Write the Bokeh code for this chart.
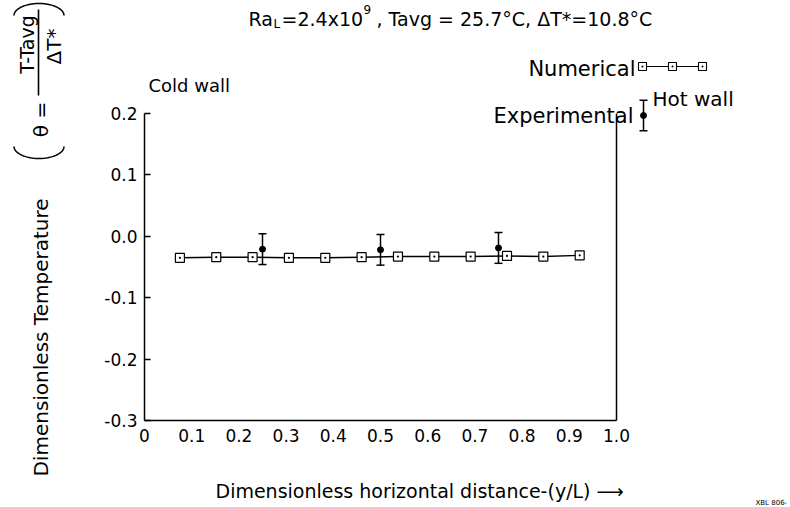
import numpy as np
from bokeh.plotting import figure
from bokeh.models import (ColumnDataSource, Range1d, FixedTicker, PrintfTickFormatter,
                          Label, Whisker, TeeHead, LinearAxis)
from bokeh.embed import file_html
from bokeh.resources import INLINE

# ---------------- data ----------------
num_x = [0.075, 0.152, 0.229, 0.306, 0.383, 0.460, 0.537, 0.614, 0.691, 0.768, 0.845, 0.922]
num_theta = [-0.035, -0.034, -0.034, -0.035, -0.035, -0.034, -0.033, -0.033, -0.033, -0.032, -0.033, -0.031]
exp_x = [0.25, 0.50, 0.75]
exp_theta = [-0.021, -0.022, -0.019]
exp_err = [0.025, 0.025, 0.025]
x_ticks = [0.0, 0.1, 0.2, 0.3, 0.4, 0.5, 0.6, 0.7, 0.8, 0.9, 1.0]
y_ticks = [-0.3, -0.2, -0.1, 0.0, 0.1, 0.2]
wall_x = 1.0

FONT = "DejaVu Sans"

# ---------------- layout ----------------
W, H = 790, 507
OX, OY = 144.0, 420.0            # pixel position of data origin (x=0, y=-0.3)
PXX, PXY = 472.0, 614.0          # pixels per data unit


def X(px):  # canvas pixel -> data x
    return (px - OX) / PXX


def Y(py):  # canvas pixel -> data y
    return -0.3 + (OY - py) / PXY


p = figure(width=W, height=H,
           x_range=Range1d(X(0), X(W)), y_range=Range1d(Y(H), Y(0)),
           x_axis_location=None, y_axis_location=None,
           output_backend="svg", toolbar_location=None,
           min_border=0, min_border_left=0, min_border_right=0, min_border_top=0, min_border_bottom=0)
p.grid.visible = False
p.outline_line_color = None
p.background_fill_color = "white"
p.border_fill_color = "white"

xaxis = LinearAxis(fixed_location=-0.3, bounds=(0, 1.0), ticker=FixedTicker(ticks=x_ticks),
                   formatter=PrintfTickFormatter(format="%.1f"))
xaxis.major_label_overrides = {0: "0"}
xaxis.major_label_standoff = 8
xaxis.major_tick_in = 0
xaxis.major_tick_out = 0
p.add_layout(xaxis, "below")

yaxis = LinearAxis(fixed_location=0.0, bounds=(-0.3, 0.2), ticker=FixedTicker(ticks=y_ticks),
                   formatter=PrintfTickFormatter(format="%.1f"))
yaxis.major_label_standoff = 7
yaxis.major_tick_in = 6
yaxis.major_tick_out = 0
p.add_layout(yaxis, "left")

for ax in (xaxis, yaxis):
    ax.axis_line_color = "black"
    ax.axis_line_width = 1.5
    ax.major_tick_line_color = "black"
    ax.major_tick_line_width = 1.3
    ax.minor_tick_line_color = None
    ax.major_label_text_font = FONT
    ax.major_label_text_font_size = "17px"
    ax.major_label_text_color = "black"

# hot wall line
p.segment(x0=[wall_x], y0=[0.2], x1=[wall_x], y1=[-0.3], line_color="black", line_width=1.5)

# numerical series
p.line(num_x, num_theta, line_color="black", line_width=1.4)
p.scatter(num_x, num_theta, marker="square_dot", size=9, fill_color="white",
          line_color="black", line_width=1.2)

# experimental series
esrc = ColumnDataSource(dict(x=exp_x, y=exp_theta,
                             lower=[t - e for t, e in zip(exp_theta, exp_err)],
                             upper=[t + e for t, e in zip(exp_theta, exp_err)]))


def whisk(src):
    p.add_layout(Whisker(source=src, base="x", lower="lower", upper="upper", dimension="height",
                         line_color="black", line_width=1.5,
                         upper_head=TeeHead(size=8, line_color="black", line_width=1.5),
                         lower_head=TeeHead(size=8, line_color="black", line_width=1.5)))
    p.scatter("x", "y", source=src, marker="circle", size=6, color="black")


whisk(esrc)

# legend (manual)
lx = [X(642), X(672), X(702)]
ly = [Y(66)] * 3
p.line(lx, ly, line_color="black", line_width=1.0)
p.scatter(lx, ly, marker="square_dot", size=8, fill_color="white", line_color="black", line_width=1.1)
lsrc = ColumnDataSource(dict(x=[X(643)], y=[Y(115)], lower=[Y(115) - exp_err[0]],
                             upper=[Y(115) + exp_err[0]]))
whisk(lsrc)


def lab(text, px, py, size, align="left", baseline="middle", angle=0.0):
    p.add_layout(Label(x=X(px), y=Y(py), text=text, text_font=FONT, text_font_size=f"{size}px",
                       text_color="black", text_align=align, text_baseline=baseline, angle=angle))


lab("Numerical", 635, 68, 21, align="right")
lab("Experimental", 633, 115, 21, align="right")
lab("Hot wall", 652, 98, 20)
lab("Cold wall", 148, 85, 18)

# title with sub/superscripts
lab("Ra", 248, 18, 19, baseline="alphabetic")
lab("L", 273, 23, 12, baseline="alphabetic")
lab("=2.4x10", 281, 18, 19, baseline="alphabetic")
lab("9", 363, 9, 12, baseline="alphabetic")
lab("\u00a0, Tavg = 25.7\u00b0C, \u0394T*=10.8\u00b0C", 370, 18, 19, baseline="alphabetic")

# x axis label
lab("Dimensionless horizontal distance-(y/L) \u27f6", 215, 490, 19)

# y axis label
lab("Dimensionless Temperature", 40, 337, 20, align="center", angle=np.pi / 2)
lab("\u03b8 =", 40, 119, 20, align="center", angle=np.pi / 2)
lab("T-Tavg", 26, 44, 19, align="center", angle=np.pi / 2)
lab("\u0394T*", 53, 46, 20, align="center", angle=np.pi / 2)

# fraction bar
p.segment(x0=[X(38)], y0=[Y(9)], x1=[X(38)], y1=[Y(95)], line_color="black", line_width=1.6)

# large rotated parentheses
t = np.linspace(0, np.pi, 40)
cx, a, b = 38.5, 25.0, 12.0
arc_x = [X(v) for v in cx + a * np.cos(t)]
p.line(arc_x, [Y(v) for v in 15 - b * np.sin(t)], line_color="black", line_width=1.5)
p.line(arc_x, [Y(v) for v in 146 + b * np.sin(t)], line_color="black", line_width=1.5)

lab("XBL 806-", 755, 502, 7)

open("out.html", "w").write(file_html(p, INLINE))
